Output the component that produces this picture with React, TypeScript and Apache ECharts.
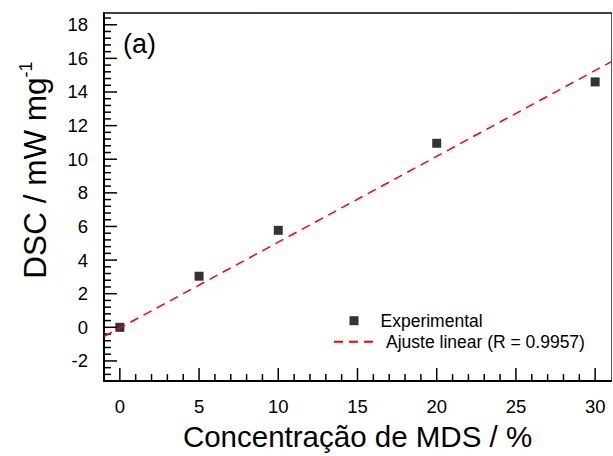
import React, { useEffect, useRef } from "react";
import * as echarts from "echarts";

const concentration = [0, 5, 10, 20, 30];
const dscValues = [0, 3.04, 5.77, 10.95, 14.6];
const fitX = [-1, 31];
const fitY = [-0.55, 15.79];
const xMajorTicks = [0, 5, 10, 15, 20, 25, 30];
const yMajorTicks = [-2, 0, 2, 4, 6, 8, 10, 12, 14, 16, 18];
const xMin = -1, xMax = 31, yMin = -3.2, yMax = 18.7;

const xMinorTicks: number[] = [];
for (let v = 1; v <= 30; v++) if (v % 5 !== 0) xMinorTicks.push(v);
const yMinorTicks: number[] = [];
for (let k = -28; k <= 186; k += 4) if (k % 20 !== 0) yMinorTicks.push(k / 10);

const FONT = "'Liberation Sans', Arial, sans-serif";
const MAJOR_LEN = 13, MINOR_LEN = 7;

export default function App() {
  const ref = useRef<HTMLDivElement>(null);
  useEffect(() => {
    if (!ref.current) return;
    const chart = echarts.init(ref.current, null, { renderer: "svg" });
    const xTickData = [
      ...xMajorTicks.map((v) => [v, 1]),
      ...xMinorTicks.map((v) => [v, 0]),
    ];
    const yTickData = [
      ...yMajorTicks.map((v) => [1, v]),
      ...yMinorTicks.map((v) => [0, v]),
    ];
    chart.setOption({
      animation: false,
      backgroundColor: "#fff",
      textStyle: { fontFamily: FONT, color: "#000" },
      grid: { left: 104, right: 2, top: 13, bottom: 67 },
      xAxis: [
        {
          type: "value", min: xMin, max: xMax, position: "bottom", splitLine: { show: false },
          name: "Concentração de MDS / %", nameLocation: "middle", nameGap: 32,
          nameTextStyle: { fontSize: 29.5, color: "#000", fontFamily: FONT },
          axisLine: { show: true, onZero: false, lineStyle: { color: "#000", width: 2 } },
          axisTick: { show: false },
          axisLabel: { show: true, customValues: xMajorTicks, margin: 16, fontSize: 18.5, color: "#000", fontFamily: FONT },
        },
        {
          type: "value", min: xMin, max: xMax, position: "top", splitLine: { show: false },
          axisLine: { show: true, onZero: false, lineStyle: { color: "#000", width: 1.5 } },
          axisTick: { show: false },
          axisLabel: { show: false },
        },
      ],
      yAxis: [
        {
          type: "value", min: yMin, max: yMax, position: "left", splitLine: { show: false },
          axisLine: { show: true, onZero: false, lineStyle: { color: "#000", width: 2 } },
          axisTick: { show: false },
          axisLabel: { show: true, customValues: yMajorTicks, margin: 16, fontSize: 18.5, color: "#000", fontFamily: FONT },
        },
        {
          type: "value", min: yMin, max: yMax, position: "right", splitLine: { show: false },
          axisLine: { show: true, onZero: false, lineStyle: { color: "#555", width: 1 } },
          axisTick: { show: false },
          axisLabel: { show: false },
        },
      ],
      legend: [
        {
          data: [{ name: "Experimental", icon: "rect" }],
          left: 349.5, top: 310.7, padding: 0, orient: "vertical",
          itemWidth: 9, itemHeight: 9,
          textStyle: { fontSize: 17.5, color: "#000", fontFamily: FONT, lineHeight: 20, padding: [0, 0, 0, 17] },
        },
        {
          data: ["Ajuste linear (R = 0.9957)"],
          left: 333, top: 331.7, padding: 0, orient: "vertical",
          itemWidth: 39, itemHeight: 10,
          itemStyle: { opacity: 0 },
          textStyle: { fontSize: 17.5, color: "#000", fontFamily: FONT, lineHeight: 20, padding: [0, 0, 0, 8] },
        },
      ],
      series: [
        {
          name: "xTicks", type: "custom", xAxisIndex: 0, yAxisIndex: 0, silent: true, z: 1,
          data: xTickData,
          renderItem: (_params: any, api: any) => {
            const p = api.coord([api.value(0), yMin]);
            const len = api.value(1) === 1 ? MAJOR_LEN : MINOR_LEN;
            return {
              type: "line",
              shape: { x1: p[0], y1: p[1], x2: p[0], y2: p[1] - len },
              style: { stroke: "#000", lineWidth: 1.5 },
            };
          },
        },
        {
          name: "yTicks", type: "custom", xAxisIndex: 0, yAxisIndex: 0, silent: true, z: 1,
          data: yTickData,
          renderItem: (_params: any, api: any) => {
            const p = api.coord([xMin, api.value(1)]);
            const len = api.value(0) === 1 ? MAJOR_LEN : MINOR_LEN;
            return {
              type: "line",
              shape: { x1: p[0], y1: p[1], x2: p[0] + len, y2: p[1] },
              style: { stroke: "#000", lineWidth: 1.5 },
            };
          },
        },
        {
          name: "Experimental", type: "scatter", xAxisIndex: 0, yAxisIndex: 0,
          symbol: "rect", symbolSize: 9, z: 2,
          itemStyle: { color: "#000" },
          data: concentration.map((x, i) => [x, dscValues[i]]),
        },
        {
          name: "Ajuste linear (R = 0.9957)", type: "line", xAxisIndex: 0, yAxisIndex: 0,
          symbol: "none", showSymbol: false, z: 3,
          lineStyle: { color: "#ff0000", width: 1.5, type: [9, 6] },
          itemStyle: { color: "#ff0000" },
          data: fitX.map((x, i) => [x, fitY[i]]),
        },
      ],
      graphic: [
        {
          type: "text", x: 123, y: 44,
          style: { text: "(a)", fontSize: 27, fontFamily: FONT, fill: "#000", align: "left", verticalAlign: "middle" },
        },
        {
          type: "text", x: 35, y: 170, rotation: Math.PI / 2,
          style: {
            text: "{a|DSC / mW mg}{b|-1}",
            align: "center", verticalAlign: "middle", fill: "#000",
            rich: {
              a: { fontSize: 31.5, fontFamily: FONT, fill: "#000", lineHeight: 36 },
              b: { fontSize: 18, fontFamily: FONT, fill: "#000", lineHeight: 36, verticalAlign: "top" },
            },
          },
        },
      ],
    });
    return () => chart.dispose();
  }, []);
  return (
    <div
      ref={ref}
      style={{ position: "absolute", left: 0, top: 0, width: 613, height: 456 }}
    />
  );
}
